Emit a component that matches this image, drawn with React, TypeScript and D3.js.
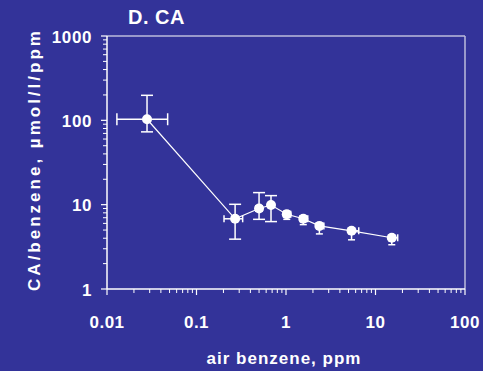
import * as d3 from "d3";

// air benzene (ppm) vs CA/benzene (µmol/l/ppm)
const airBenzene = [0.028, 0.27, 0.5, 0.68, 1.02, 1.56, 2.36, 5.4, 15.2];
const caRatio = [103, 6.8, 9.0, 9.9, 7.7, 6.8, 5.6, 4.9, 4.05];
const caLow = [73, 3.9, 6.7, 6.3, 6.7, 5.8, 4.5, 3.83, 3.35];
const caHigh = [198, 10.1, 13.9, 12.8, 8.4, 7.4, 6.0, 5.3, 4.3];
const airLow = [0.0129, 0.203, 0.46, 0.64, 0.94, 1.44, 2.2, 5.0, 14.2];
const airHigh = [0.0476, 0.328, 0.54, 0.72, 1.13, 1.75, 2.65, 6.5, 17.7];

const xTicks = [0.01, 0.1, 1, 10, 100];
const yTicks = [1, 10, 100, 1000];

const BG = "#333399";
const FONT = "'Liberation Sans', Arial, sans-serif";

export default function App() {
  const width = 483;
  const height = 371;
  const margin = { top: 36, right: 18, bottom: 82, left: 107 };
  const w = width - margin.left - margin.right;
  const h = height - margin.top - margin.bottom;

  const x = d3.scaleLog().domain([0.01, 100]).range([0, w]);
  const y = d3.scaleLog().domain([1, 1000]).range([h, 0]);

  const minorX: number[] = [];
  const minorY: number[] = [];
  for (let d = 0.01; d < 100; d *= 10) {
    for (let k = 2; k <= 9; k++) minorX.push(d * k);
  }
  for (let d = 1; d < 1000; d *= 10) {
    for (let k = 2; k <= 9; k++) minorY.push(d * k);
  }

  const line = d3
    .line<number>()
    .x((_, i) => x(airBenzene[i]))
    .y((d) => y(d));

  // wide caps on long bars, short ones on the small bars
  const cap = (len: number) => (len > 12 ? 6 : 3.5);

  return (
    <svg
      width={width}
      height={height}
      style={{ position: "absolute", left: 0, top: 0, background: BG }}
      fontFamily={FONT}
    >
      <rect width={width} height={height} fill={BG} />
      <text x={128} y={24} fill="white" fontSize={20} fontWeight="bold" letterSpacing={0.5}>
        D. CA
      </text>
      <g transform={`translate(${margin.left},${margin.top})`}>
        {/* frame */}
        <line x1={0} x2={w} y1={0} y2={0} stroke="#bcbcdc" strokeWidth={1.5} />
        <line x1={w} x2={w} y1={0} y2={h} stroke="#bcbcdc" strokeWidth={1.5} />
        <line x1={0} x2={w} y1={h} y2={h} stroke="white" strokeWidth={1.5} />
        <line x1={0} x2={0} y1={0} y2={h} stroke="white" strokeWidth={1.5} />

        {/* x ticks */}
        {xTicks.map((t) => (
          <g key={`xt${t}`}>
            <line x1={x(t)} x2={x(t)} y1={h} y2={h + 6} stroke="white" strokeWidth={1.2} />
            <text
              x={x(t)}
              y={h + 38.7}
              fill="white"
              fontSize={17}
              fontWeight="bold"
              textAnchor="middle"
              letterSpacing={0.5}
            >
              {t}
            </text>
          </g>
        ))}
        {minorX.map((t) => (
          <line key={`xm${t}`} x1={x(t)} x2={x(t)} y1={h} y2={h + 4} stroke="white" strokeWidth={1} />
        ))}

        {/* y ticks */}
        {yTicks.map((t) => (
          <g key={`yt${t}`}>
            <line x1={-6} x2={0} y1={y(t)} y2={y(t)} stroke="white" strokeWidth={1.2} />
            <text
              x={-15}
              y={y(t) + 6.5}
              fill="white"
              fontSize={17}
              fontWeight="bold"
              textAnchor="end"
              letterSpacing={0.6}
            >
              {t}
            </text>
          </g>
        ))}
        {minorY.map((t) => (
          <line key={`ym${t}`} x1={-4} x2={0} y1={y(t)} y2={y(t)} stroke="white" strokeWidth={1} />
        ))}

        {/* connecting line */}
        <path d={line(caRatio) ?? ""} fill="none" stroke="white" strokeWidth={1.2} />

        {/* error bars */}
        {caRatio.map((v, i) => {
          const cx = x(airBenzene[i]);
          const cy = y(v);
          const yl = y(caLow[i]);
          const yh = y(caHigh[i]);
          const xl = x(airLow[i]);
          const xh = x(airHigh[i]);
          const cy1 = cap(Math.max(yl - cy, cy - yh));
          const cx1 = cap(Math.max(xh - cx, cx - xl));
          return (
            <g key={`e${i}`} stroke="white" strokeWidth={1.5}>
              <line x1={cx} x2={cx} y1={yh} y2={yl} />
              <line x1={cx - cy1} x2={cx + cy1} y1={yh} y2={yh} />
              <line x1={cx - cy1} x2={cx + cy1} y1={yl} y2={yl} />
              <line x1={xl} x2={xh} y1={cy} y2={cy} />
              <line x1={xl} x2={xl} y1={cy - cx1} y2={cy + cx1} />
              <line x1={xh} x2={xh} y1={cy - cx1} y2={cy + cx1} />
            </g>
          );
        })}

        {/* markers */}
        {caRatio.map((v, i) => (
          <circle key={`p${i}`} cx={x(airBenzene[i])} cy={y(v)} r={5} fill="white" />
        ))}

        {/* axis titles */}
        <text
          x={w / 2 - 2}
          y={h + 75}
          fill="white"
          fontSize={17}
          fontWeight="bold"
          textAnchor="middle"
          letterSpacing={1}
        >
          air benzene, ppm
        </text>
        <text
          transform={`translate(-67,${h / 2 - 3}) rotate(-90)`}
          fill="white"
          fontSize={17}
          fontWeight="bold"
          textAnchor="middle"
          letterSpacing={3}
        >
          CA/benzene, µmol/l/ppm
        </text>
      </g>
    </svg>
  );
}
